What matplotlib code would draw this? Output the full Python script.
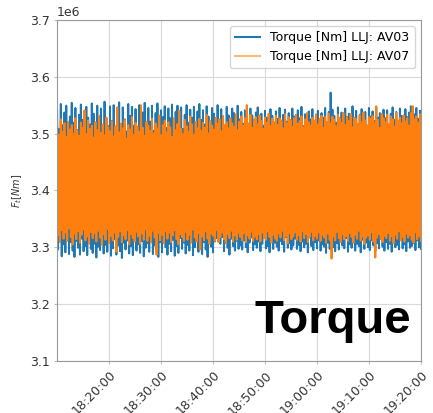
import matplotlib
matplotlib.use("Agg")
import matplotlib.pyplot as plt
import matplotlib.dates as mdates
import numpy as np
import pandas as pd

# torque values, in kNm (alternating peaks / troughs)
av03 = [3541,3296, 3508,3312, 3552,3284, 3515,3305, 3537,3291, 3549,3318, 3512,3288, 3530,3309, 3554,3294, 3519,3283,
        3545,3311, 3506,3299, 3533,3287, 3551,3315, 3524,3293, 3509,3302, 3547,3286, 3528,3313, 3516,3297, 3553,3290,
        3535,3306, 3511,3282, 3549,3301, 3520,3295, 3544,3319, 3507,3289, 3556,3304, 3527,3292, 3513,3310, 3548,3285,
        3522,3298, 3550,3314, 3510,3287, 3539,3303, 3555,3293, 3517,3281, 3546,3308, 3525,3296, 3504,3312, 3552,3289,
        3531,3302, 3547,3286, 3514,3317, 3543,3294, 3508,3305, 3550,3290, 3526,3311, 3537,3284, 3554,3299, 3512,3307,
        3545,3292, 3521,3315, 3549,3288, 3505,3303, 3536,3296, 3553,3283, 3518,3309, 3541,3291, 3529,3318, 3548,3300,
        3510,3287, 3544,3306, 3527,3293, 3551,3313, 3515,3285, 3538,3302, 3549,3290, 3523,3316, 3546,3297, 3508,3308,
        3533,3289, 3550,3304, 3519,3294, 3542,3311, 3528,3286, 3547,3300, 3513,3319, 3539,3292, 3552,3305, 3524,3288,
        3541,3309, 3516,3296, 3548,3283, 3530,3314, 3512,3301, 3545,3291, 3535,3310, 3521,3316, 3550,3312, 3518,3306,
        3543,3318, 3527,3293, 3509,3308, 3547,3299, 3532,3287, 3520,3315, 3544,3302, 3536,3294, 3514,3311, 3549,3297,
        3525,3303, 3538,3296, 3517,3312, 3541,3300, 3529,3291, 3512,3308, 3544,3317, 3532,3295, 3520,3305, 3537,3299,
        3546,3310, 3523,3293, 3535,3306, 3514,3316, 3540,3298, 3528,3302, 3511,3291, 3543,3313, 3531,3297, 3519,3308,
        3539,3301, 3526,3294, 3545,3311, 3515,3305, 3533,3292, 3542,3318, 3521,3299, 3536,3307, 3510,3296, 3544,3303,
        3530,3315, 3518,3297, 3541,3304, 3527,3293, 3547,3310, 3513,3300, 3534,3306, 3522,3291, 3539,3317, 3525,3302,
        3543,3295, 3516,3309, 3532,3298, 3540,3312, 3520,3294, 3536,3305, 3528,3301, 3545,3290, 3514,3308, 3538,3297,
        3572,3314, 3542,3300, 3531,3293, 3519,3307, 3546,3296, 3527,3311, 3537,3303, 3512,3298, 3544,3316, 3529,3292,
        3535,3305, 3521,3299, 3548,3310, 3526,3294, 3540,3306, 3517,3302, 3533,3291, 3543,3313, 3523,3297, 3538,3308,
        3514,3300, 3545,3295, 3530,3312, 3539,3303, 3522,3293, 3547,3307, 3528,3298, 3536,3315, 3519,3301, 3542,3294,
        3527,3309, 3541,3297, 3516,3306, 3535,3292, 3546,3311, 3524,3300, 3538,3304, 3513,3296, 3544,3314, 3531,3298,
        3520,3305, 3543,3293, 3529,3310, 3537,3299, 3548,3302, 3518,3307, 3534,3295, 3545,3312, 3526,3300, 3540,3297]

av07 = [3512,3321, 3498,3309, 3525,3330, 3503,3315, 3518,3326, 3494,3311, 3521,3333, 3507,3318, 3515,3305, 3500,3324,
        3527,3314, 3505,3328, 3496,3308, 3519,3322, 3510,3331, 3541,3312, 3499,3319, 3523,3306, 3508,3327, 3514,3316,
        3493,3325, 3520,3310, 3506,3329, 3531,3317, 3501,3304, 3516,3323, 3497,3313, 3528,3332, 3511,3307, 3504,3320,
        3522,3312, 3495,3326, 3513,3292, 3546,3318, 3502,3328, 3517,3309, 3509,3321, 3524,3314, 3491,3330, 3515,3305,
        3507,3323, 3529,3316, 3498,3310, 3519,3327, 3512,3319, 3503,3306, 3550,3324, 3510,3313, 3496,3331, 3521,3311,
        3514,3320, 3505,3308, 3526,3329, 3500,3317, 3518,3287, 3509,3325, 3532,3312, 3497,3322, 3515,3307, 3523,3328,
        3502,3315, 3520,3326, 3511,3309, 3494,3321, 3527,3330, 3506,3314, 3517,3305, 3540,3323, 3508,3318, 3499,3311,
        3524,3327, 3513,3313, 3503,3322, 3530,3308, 3516,3331, 3498,3317, 3521,3310, 3509,3325, 3526,3296, 3505,3319,
        3519,3312, 3510,3328, 3533,3315, 3500,3306, 3522,3324, 3514,3320, 3507,3311, 3528,3330, 3517,3309, 3525,3318,
        3504,3326, 3531,3314, 3515,3307, 3520,3323, 3509,3316, 3527,3329, 3518,3310, 3512,3321, 3534,3313, 3506,3325,
        3521,3318, 3530,3312, 3514,3325, 3527,3309, 3550,3321, 3518,3315, 3533,3327, 3510,3311, 3525,3319, 3529,3314,
        3516,3323, 3532,3310, 3522,3326, 3508,3316, 3528,3313, 3519,3328, 3535,3318, 3513,3308, 3526,3322, 3520,3315,
        3531,3311, 3515,3324, 3527,3317, 3523,3329, 3509,3312, 3534,3320, 3518,3307, 3529,3325, 3524,3314, 3512,3319,
        3527,3326, 3533,3313, 3517,3321, 3522,3310, 3530,3328, 3511,3316, 3525,3323, 3536,3309, 3520,3318, 3514,3327,
        3528,3312, 3523,3320, 3534,3315, 3516,3326, 3526,3311, 3531,3322, 3510,3317, 3529,3308, 3521,3324, 3535,3313,
        3518,3280, 3530,3319, 3524,3312, 3513,3327, 3533,3316, 3527,3309, 3519,3323, 3536,3314, 3515,3320, 3529,3311,
        3522,3325, 3534,3318, 3511,3308, 3528,3322, 3525,3315, 3517,3329, 3532,3312, 3520,3319, 3537,3306, 3523,3317,
        3514,3321, 3529,3313, 3526,3326, 3531,3310, 3519,3282, 3548,3317, 3524,3323, 3510,3314, 3535,3309, 3527,3320,
        3520,3316, 3533,3325, 3516,3311, 3530,3319, 3525,3307, 3512,3322, 3537,3315, 3523,3328, 3528,3312, 3518,3318,
        3532,3310, 3521,3324, 3527,3317, 3514,3321, 3536,3313, 3548,3308, 3525,3326, 3530,3314, 3519,3319, 3534,3311]

t_start = "2021-06-01 18:10:00"
t_end = "2021-06-01 19:20:00"
labels = ["Torque [Nm] LLJ: AV03", "Torque [Nm] LLJ: AV07"]

t = pd.date_range(t_start, t_end, periods=len(av03))

fig = plt.figure(figsize=(4.33, 4.13), dpi=100)
ax = fig.add_axes([0.132, 0.126, 0.840, 0.826])

ax.plot(t, np.array(av03) * 1e3, color='#1f77b4', lw=1.4, label=labels[0])
ax.plot(t, np.array(av07) * 1e3, color='#ff7f0e', lw=1.4, label=labels[1])

ax.set_ylim(3.1e6, 3.7e6)
ax.set_xlim(pd.Timestamp(t_start), pd.Timestamp(t_end))
ax.xaxis.set_major_locator(mdates.MinuteLocator(byminute=[0, 10, 20, 30, 40, 50]))
ax.xaxis.set_major_formatter(mdates.DateFormatter('%H:%M:%S'))
ax.set_xticks(ax.get_xticks()[1:])
plt.setp(ax.get_xticklabels(), rotation=45, ha='right', rotation_mode='anchor')

ax.grid(True, color='0.85', lw=0.8)
for s in ax.spines.values():
    s.set_color('0.6')
ax.tick_params(colors='0.75', labelcolor='0.2', labelsize=9, length=2)
ax.yaxis.get_offset_text().set_fontsize(9)
ax.yaxis.get_offset_text().set_color('0.2')

ax.set_ylabel('$F_t [Nm]$', fontsize=7, color='0.2')
leg = ax.legend(loc='upper right', fontsize=9)
leg.legend_handles[0].set_linewidth(1.5)
leg.legend_handles[1].set_linewidth(1.5)
leg.legend_handles[1].set_alpha(0.55)

ax.text(0.973, 0.082, 'Torque', transform=ax.transAxes, ha='right', va='baseline',
        fontsize=34, fontweight='bold', family='Liberation Sans')

fig.savefig('out.png', dpi=100)
